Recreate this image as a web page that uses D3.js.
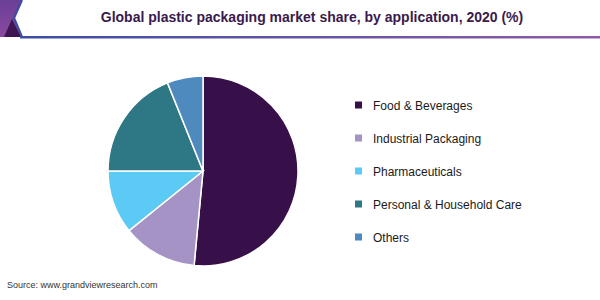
<!doctype html>
<html lang="en">
<head>
<meta charset="UTF-8">
<title>Plastic packaging market share</title>
<script src="https://d3js.org/d3.v7.min.js"></script>
<style>
  body { margin: 0; background: #fff; }
  svg { display: block; font-family: "Liberation Sans", Arial, sans-serif; }
</style>
</head>
<body>
<div id="chart"></div>
<script>
// data
var categories = ["Food & Beverages", "Industrial Packaging", "Pharmaceuticals", "Personal & Household Care", "Others"];
var shares = [51.5, 12.7, 10.8, 18.9, 6.1];
var colors = ["#37104a", "#a493c4", "#5bcbf5", "#2e7785", "#4f8abf"];

var width = 600, height = 300;

var svg = d3.select("#chart")
    .append("svg")
    .attr("width", width)
    .attr("height", height);

var defs = svg.append("defs");

var lineGrad = defs.append("linearGradient").attr("id", "lineGrad");
lineGrad.append("stop").attr("offset", "0%").attr("stop-color", "#3b4fa3");
lineGrad.append("stop").attr("offset", "100%").attr("stop-color", "#8f5aa9");

var cornerGrad = defs.append("linearGradient").attr("id", "cornerGrad")
    .attr("x1", 0).attr("y1", 0).attr("x2", 0).attr("y2", 1);
cornerGrad.append("stop").attr("offset", "0%").attr("stop-color", "#6a3f98");
cornerGrad.append("stop").attr("offset", "100%").attr("stop-color", "#8a4a9e");

// header corner decoration
svg.append("path")
    .attr("d", "M0,0 L22,0 L14,18 L22,37 L0,37 Z")
    .attr("fill", "url(#cornerGrad)");
svg.append("path")
    .attr("d", "M4,37 L12,19 L21,37 Z")
    .attr("fill", "#3d1652");
svg.append("path")
    .attr("d", "M22,0 L14,18 L22,37")
    .attr("fill", "none")
    .attr("stroke", "#3b4fa3")
    .attr("stroke-width", 2.2);

// header line
svg.append("rect")
    .attr("x", 20).attr("y", 36)
    .attr("width", width - 20).attr("height", 2.5)
    .attr("fill", "url(#lineGrad)");

svg.append("text")
    .attr("x", 312)
    .attr("y", 22)
    .attr("text-anchor", "middle")
    .attr("font-size", "14px")
    .attr("font-weight", "bold")
    .attr("fill", "#3a1a4c")
    .text("Global plastic packaging market share, by application, 2020 (%)");

// pie
var radius = 95;
var pie = d3.pie().sort(null).value(function(d) { return d; });
var arc = d3.arc().innerRadius(0).outerRadius(radius);

var g = svg.append("g")
    .attr("transform", "translate(203,171)");

g.selectAll("path")
    .data(pie(shares))
    .enter()
    .append("path")
    .attr("d", arc)
    .attr("fill", function(d, i) { return colors[i]; })
    .attr("stroke", "#fff")
    .attr("stroke-width", 1.5);

// legend
var legend = svg.append("g");
var rowY = d3.scalePoint().domain(categories).range([105, 237]);

var items = legend.selectAll("g")
    .data(categories)
    .enter()
    .append("g")
    .attr("transform", function(d) { return "translate(355," + rowY(d) + ")"; });

items.append("rect")
    .attr("x", 0).attr("y", -3.5)
    .attr("width", 7).attr("height", 7)
    .attr("fill", function(d, i) { return colors[i]; });

items.append("text")
    .attr("x", 18)
    .attr("y", 4.5)
    .attr("font-size", "12px")
    .attr("fill", "#1a1a1a")
    .text(function(d) { return d; });

svg.append("text")
    .attr("x", 7)
    .attr("y", 288)
    .attr("font-size", "9px")
    .attr("fill", "#333")
    .text("Source: www.grandviewresearch.com");
</script>
</body>
</html>
